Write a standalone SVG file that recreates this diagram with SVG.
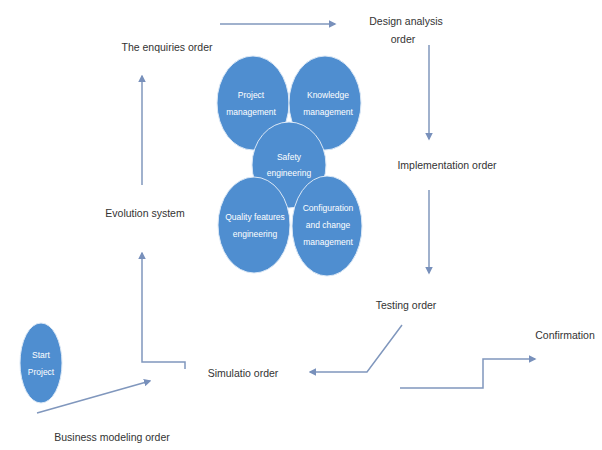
<svg xmlns="http://www.w3.org/2000/svg" width="602" height="450" viewBox="0 0 602 450">
<style>
.bub{fill:#4f8ed0;stroke:#dbe8f6;stroke-width:1}
.in{fill:#ffffff;font-family:"Liberation Sans",Arial,sans-serif;font-size:8.5px;text-anchor:middle}
.lbl{fill:#333333;font-family:"Liberation Sans",Arial,sans-serif;font-size:10.5px;text-anchor:middle}
.ln{fill:none;stroke:#8097bd;stroke-width:1.5}
.ar{marker-end:url(#ah)}
</style>
<defs>
<marker id="ah" viewBox="0 0 10 10" refX="8" refY="5" markerWidth="5" markerHeight="5" orient="auto" markerUnits="strokeWidth">
<path d="M0,0 L10,5 L0,10 z" fill="#7890bb"/>
</marker>
</defs>
<rect width="602" height="450" fill="#ffffff"/>
<g id="project-management"><ellipse class="bub" cx="253" cy="103" rx="36" ry="47"/><text class="in" x="251" y="98">Project</text><text class="in" x="251" y="115">management</text></g>
<g id="knowledge-management"><ellipse class="bub" cx="325" cy="103" rx="36" ry="47"/><text class="in" x="328" y="98">Knowledge</text><text class="in" x="328" y="115">management</text></g>
<g id="safety-engineering"><ellipse class="bub" cx="289" cy="165" rx="37" ry="43"/><text class="in" x="289" y="160">Safety</text><text class="in" x="289" y="176">engineering</text></g>
<g id="quality-features"><ellipse class="bub" cx="254" cy="225" rx="36" ry="48"/><text class="in" x="255" y="220">Quality features</text><text class="in" x="255" y="237">engineering</text></g>
<g id="configuration"><ellipse class="bub" cx="327" cy="226" rx="35" ry="50"/><text class="in" x="328" y="211">Configuration</text><text class="in" x="328" y="228">and change</text><text class="in" x="328" y="245">management</text></g>
<g id="start-project"><ellipse class="bub" cx="41" cy="363" rx="21" ry="40"/><text class="in" x="41" y="358">Start</text><text class="in" x="41" y="375">Project</text></g>
<g id="enquiries"><text class="lbl" x="167" y="51">The enquiries order</text></g>
<g id="design"><text class="lbl" x="406" y="25">Design analysis</text><text class="lbl" x="403" y="43">order</text></g>
<g id="implementation"><text class="lbl" x="447" y="169">Implementation order</text></g>
<g id="testing"><text class="lbl" x="406" y="309">Testing order</text></g>
<g id="simulatio"><text class="lbl" x="243" y="377">Simulatio order</text></g>
<g id="evolution"><text class="lbl" x="145" y="217">Evolution system</text></g>
<g id="business"><text class="lbl" x="112" y="441">Business modeling order</text></g>
<g id="confirmation"><text class="lbl" x="565" y="339">Confirmation</text></g>
<g id="connectors">
<line class="ln ar" x1="220" y1="24" x2="335" y2="24"/>
<line class="ln ar" x1="429" y1="45" x2="429" y2="139"/>
<line class="ln ar" x1="429" y1="190" x2="429" y2="273"/>
<polyline class="ln ar" points="402,325 367,372 310,372"/>
<line class="ln ar" x1="142" y1="185" x2="142" y2="76"/>
<polyline class="ln ar" points="185,369 185,362 142,362 142,253"/>
<line class="ln ar" x1="37" y1="413" x2="150" y2="381"/>
<polyline class="ln ar" points="400,388 483,388 483,359 535,359"/>
</g>
</svg>
